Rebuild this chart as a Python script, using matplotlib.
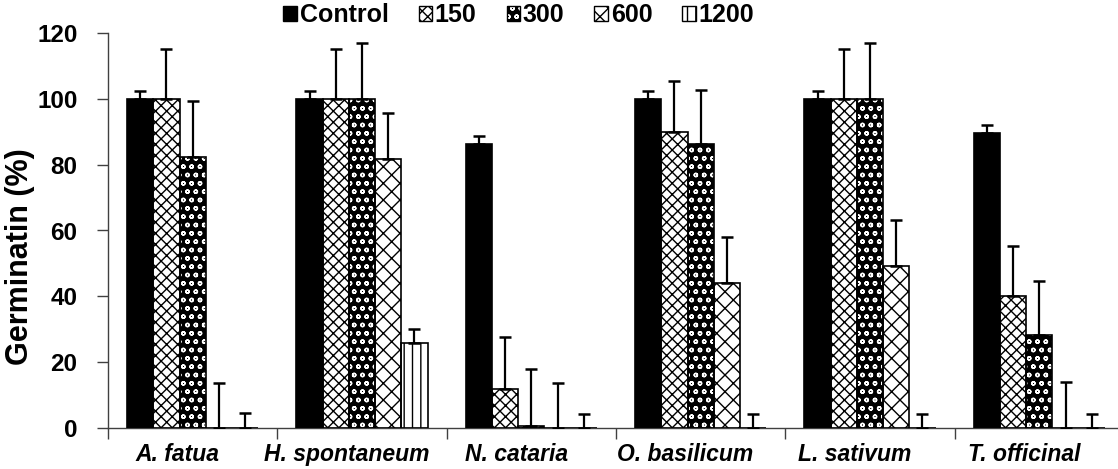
# Germination bar chart with error bars

import numpy as np
import matplotlib
matplotlib.use('Agg')
import matplotlib.pyplot as plt
from matplotlib.patches import Patch

# Data
species = ['A. fatua', 'H. spontaneum', 'N. cataria', 'O. basilicum', 'L. sativum', 'T. officinal']
series_names = ['Control', '150', '300', '600', '1200']

control = [100, 100, 86.3, 100, 100, 89.5]
control_err = [2.4, 2.4, 2.5, 2.4, 2.4, 2.5]
conc_150 = [100, 100, 12, 90, 100, 40.2]
conc_150_err = [15.2, 15.2, 15.6, 15.4, 15.2, 15.2]
conc_300 = [82.3, 100, 0.6, 86.4, 100, 28.2]
conc_300_err = [17.1, 17, 17.2, 16.3, 16.9, 16.5]
conc_600 = [0, 81.8, 0, 44, 49.2, 0]
conc_600_err = [13.8, 14, 13.8, 14, 14, 13.9]
conc_1200 = [0, 25.9, 0, 0, 0, 0]
conc_1200_err = [4.5, 4.2, 4.3, 4.3, 4.3, 4.3]

values = [control, conc_150, conc_300, conc_600, conc_1200]
errors = [control_err, conc_150_err, conc_300_err, conc_600_err, conc_1200_err]

# styles: (facecolor, hatch colour, hatch)
styles = [
    ('black', 'black', None),
    ('white', 'black', 'xxx'),
    ('black', 'white', 'oo'),
    ('white', 'black', 'xx'),
    ('white', 'black', '||'),
]

plt.rcParams['font.family'] = ['Liberation Sans', 'DejaVu Sans']
plt.rcParams['font.weight'] = 'bold'
plt.rcParams['hatch.linewidth'] = 1.0

fig = plt.figure(figsize=(11.18, 4.69), dpi=100)
ax = fig.add_axes([108 / 1118, 1 - 428 / 469, 1016 / 1118, 395 / 469])

x = np.arange(len(species)) + 0.5
width = 0.155

for j, (vals, errs) in enumerate(zip(values, errors)):
    face, hcol, hatch = styles[j]
    pos = x + (j - 2) * width
    # fill with hatch
    ax.bar(pos, vals, width, color=face, edgecolor=hcol, hatch=hatch, linewidth=0, zorder=2)
    # outline
    ax.bar(pos, vals, width, facecolor='none', edgecolor='black', linewidth=1.2, zorder=3)
    ax.errorbar(pos, vals, yerr=[np.zeros(len(errs)), errs], fmt='none', ecolor='black',
                elinewidth=1.6, capsize=4, capthick=1.8, zorder=4)

ax.set_xlim(0, len(species))
ax.set_ylim(0, 120)
ax.set_yticks(np.arange(0, 121, 20))
ax.set_xticks(np.arange(0, len(species) + 1))
ax.set_xticklabels([])
ax.set_xticks(x - 0.09, minor=True)
ax.set_xticklabels(species, minor=True, fontsize=16.5, fontweight='bold', fontstyle='italic')
ax.tick_params(axis='x', which='minor', length=0, pad=11)
ax.tick_params(axis='x', which='major', length=8, width=1, color='#404040')
ax.tick_params(axis='y', length=8, width=1, color='#404040', pad=14, labelsize=17.5)

for s in ['top', 'right']:
    ax.spines[s].set_visible(False)
for s in ['left', 'bottom']:
    ax.spines[s].set_color('#404040')
    ax.spines[s].set_linewidth(1.0)

ax.set_ylabel('Germinatin (%)', fontsize=22, fontweight='bold')
ax.yaxis.set_label_coords(-0.072, 0.435)

# legend handles: hatch layer + black outline
handles = []
for face, hcol, hatch in styles:
    fill = Patch(facecolor=face, edgecolor=hcol, hatch=hatch, linewidth=0)
    edge = Patch(facecolor='none', edgecolor='black', linewidth=1.0)
    handles.append((fill, edge))
fig.legend(handles, series_names, loc='center', bbox_to_anchor=(0.464, 0.968), ncol=5,
           frameon=False, fontsize=18, handlelength=0.55, handleheight=0.55,
           handletextpad=0.1, columnspacing=1.2, borderaxespad=0)

plt.savefig('out.png', dpi=100)
